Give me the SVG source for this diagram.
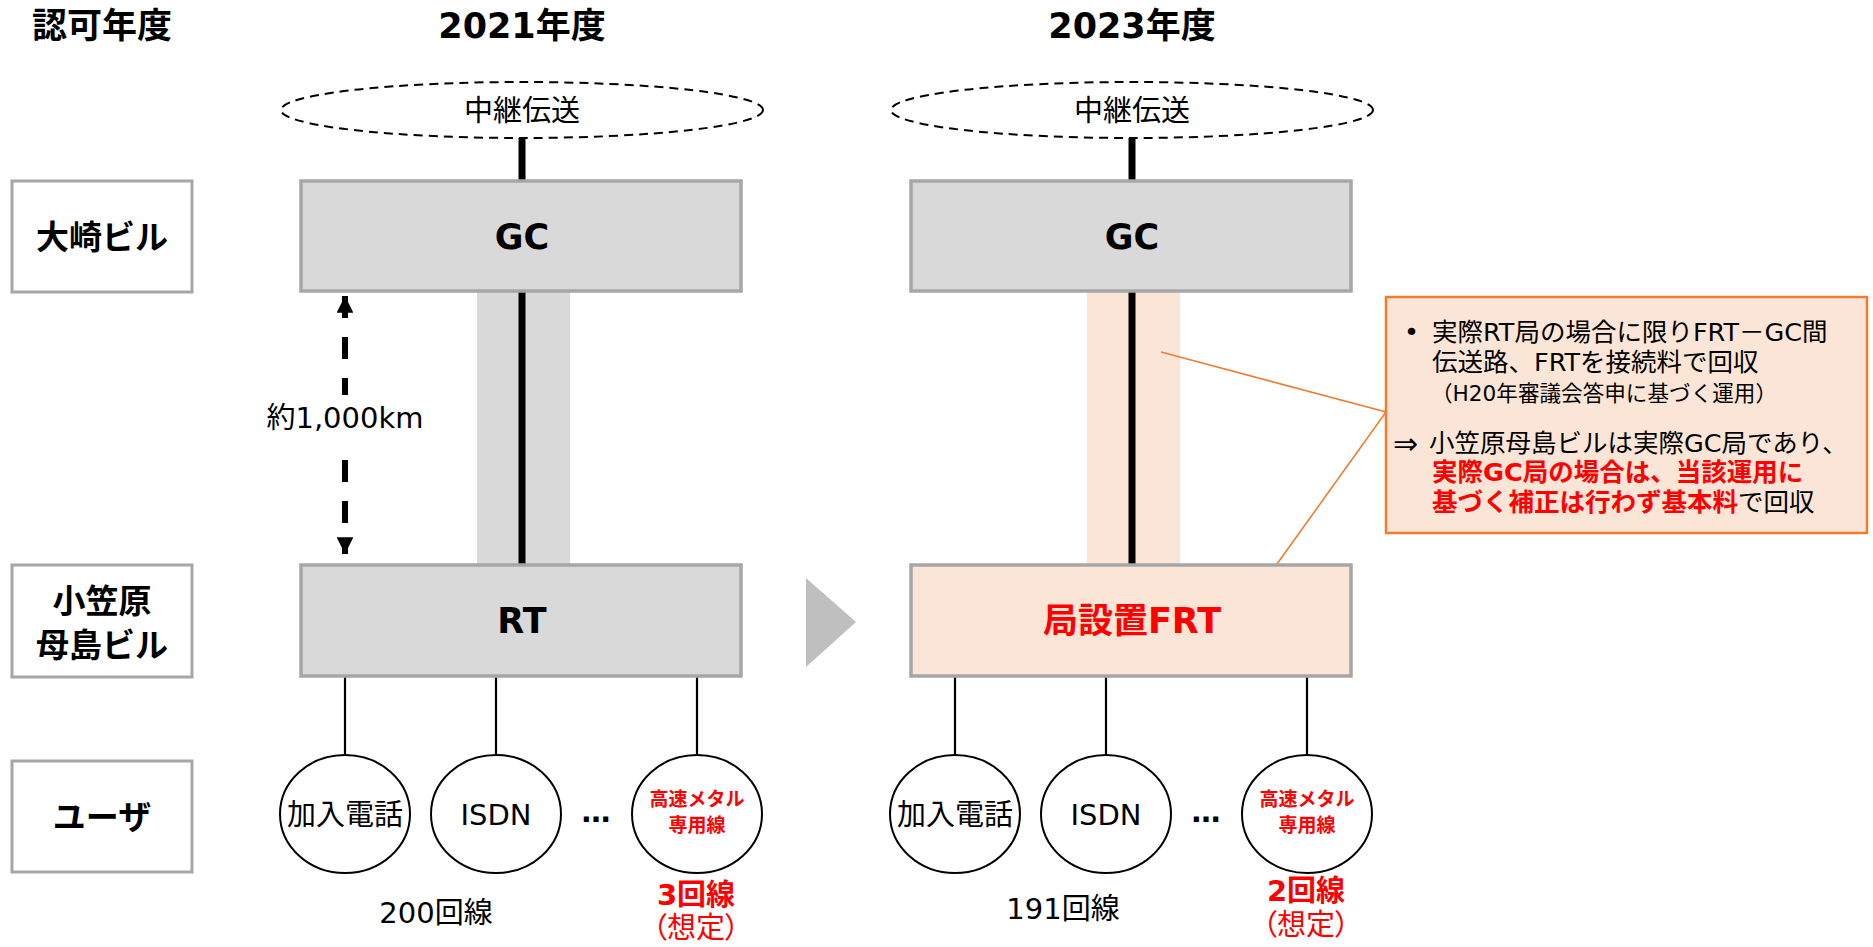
<svg xmlns="http://www.w3.org/2000/svg" width="1873" height="947" viewBox="0 0 1873 947">
<defs>
<style>
text{font-family:"DejaVu Sans","Noto Sans CJK JP",sans-serif;dominant-baseline:central;text-anchor:middle;fill:#000}
.t{font-size:35px;font-weight:bold}
.lb{font-size:33px;font-weight:bold}
.bx{font-size:35px;font-weight:bold}
.n{font-size:29px}
.sm{font-size:19px;font-weight:bold;fill:#ff0000}
.red{fill:#ff0000}
.rb{fill:#ff0000;font-weight:bold}
.co{font-size:25.5px;text-anchor:start}
.co2{font-size:21.6px;text-anchor:start}
.lbox{fill:#fff;stroke:#a6a6a6;stroke-width:3}
.gbox{fill:#d9d9d9;stroke:#a6a6a6;stroke-width:3.5}
.pbox{fill:#fbe5d6;stroke:#a6a6a6;stroke-width:3.5}
.cloud{fill:#fff;stroke:#000;stroke-width:2;stroke-dasharray:9 6}
.user{fill:#fff;stroke:#000;stroke-width:2}
.thick{stroke:#000;stroke-width:7}
.thin{stroke:#000;stroke-width:2.2}
.orange{stroke:#ed7d31;stroke-width:1.6;fill:none}
</style>
<marker id="ah" viewBox="0 0 10 10" refX="10" refY="5" markerWidth="2.8" markerHeight="2.8" orient="auto-start-reverse" markerUnits="strokeWidth">
<path d="M0,0 L10,5 L0,10 z" fill="#000"/>
</marker>
</defs>

<g id="headers">
<text class="t" x="102" y="26">認可年度</text>
<text class="t" x="522" y="26">2021年度</text>
<text class="t" x="1132" y="26">2023年度</text>
</g>

<g id="label-osaki"><rect class="lbox" x="12" y="181" width="180" height="111"/><text class="lb" x="102" y="237">大崎ビル</text></g>
<g id="label-hahajima"><rect class="lbox" x="12" y="565" width="180" height="112"/><text class="lb" x="102" y="601">小笠原</text><text class="lb" x="102" y="645">母島ビル</text></g>
<g id="label-user"><rect class="lbox" x="12" y="761" width="180" height="111"/><text class="lb" x="102" y="817">ユーザ</text></g>

<g id="bands">
<rect x="477" y="291" width="93" height="274" fill="#d9d9d9"/>
<rect x="1087" y="291" width="93" height="274" fill="#fbe5d6"/>
</g>

<g id="connectors">
<line class="thick" x1="522" y1="138" x2="522" y2="181"/>
<line class="thick" x1="522" y1="291" x2="522" y2="565"/>
<line class="thick" x1="1132" y1="138" x2="1132" y2="181"/>
<line class="thick" x1="1132" y1="291" x2="1132" y2="565"/>
<line class="thin" x1="345" y1="677" x2="345" y2="755"/>
<line class="thin" x1="496" y1="677" x2="496" y2="755"/>
<line class="thin" x1="697" y1="677" x2="697" y2="755"/>
<line class="thin" x1="955" y1="677" x2="955" y2="755"/>
<line class="thin" x1="1106" y1="677" x2="1106" y2="755"/>
<line class="thin" x1="1307" y1="677" x2="1307" y2="755"/>
<line x1="345" y1="296" x2="345" y2="554" stroke="#000" stroke-width="6" stroke-dasharray="22 19" marker-start="url(#ah)" marker-end="url(#ah)"/>
<polyline class="orange" points="1161,352 1386,412 1277,564"/>
</g>

<g id="distance-label">
<rect x="262" y="395" width="166" height="46" fill="#fff"/>
<text class="n" x="345" y="418">約1,000km</text>
</g>

<g id="relay-2021"><ellipse class="cloud" cx="522" cy="110" rx="241" ry="28"/><text class="n" x="522" y="111">中継伝送</text></g>
<g id="relay-2023"><ellipse class="cloud" cx="1132" cy="110" rx="241" ry="28"/><text class="n" x="1132" y="111">中継伝送</text></g>

<g id="gc-2021"><rect class="gbox" x="301" y="181" width="440" height="110"/><text class="bx" x="522" y="237">GC</text></g>
<g id="gc-2023"><rect class="gbox" x="911" y="181" width="440" height="110"/><text class="bx" x="1132" y="237">GC</text></g>
<g id="rt-2021"><rect class="gbox" x="301" y="565" width="440" height="111"/><text class="bx" x="522" y="621">RT</text></g>
<g id="frt-2023"><rect class="pbox" x="911" y="565" width="440" height="111"/><text class="bx red" x="1132" y="621">局設置FRT</text></g>

<g id="transition-arrow"><polygon points="806,578 806,667 856,622" fill="#bfbfbf"/></g>

<g id="users-2021">
<g id="u21-phone"><ellipse class="user" cx="345" cy="814" rx="65" ry="59"/><text class="n" x="345" y="815">加入電話</text></g>
<g id="u21-isdn"><ellipse class="user" cx="496" cy="814" rx="65" ry="59"/><text class="n" x="496" y="815">ISDN</text></g>
<text class="n" x="596" y="812" font-weight="bold">…</text>
<g id="u21-metal"><ellipse class="user" cx="697" cy="814" rx="65" ry="59"/><text class="sm" x="697" y="799">高速メタル</text><text class="sm" x="697" y="825">専用線</text></g>
<text class="n" x="436" y="913">200回線</text>
<text class="n rb" x="696" y="895">3回線</text>
<text class="n red" x="696" y="928" style="font-feature-settings:'palt'">（想定）</text>
</g>

<g id="users-2023">
<g id="u23-phone"><ellipse class="user" cx="955" cy="814" rx="65" ry="59"/><text class="n" x="955" y="815">加入電話</text></g>
<g id="u23-isdn"><ellipse class="user" cx="1106" cy="814" rx="65" ry="59"/><text class="n" x="1106" y="815">ISDN</text></g>
<text class="n" x="1206" y="812" font-weight="bold">…</text>
<g id="u23-metal"><ellipse class="user" cx="1307" cy="814" rx="65" ry="59"/><text class="sm" x="1307" y="799">高速メタル</text><text class="sm" x="1307" y="825">専用線</text></g>
<text class="n" x="1063" y="909">191回線</text>
<text class="n rb" x="1306" y="891">2回線</text>
<text class="n red" x="1306" y="925" style="font-feature-settings:'palt'">（想定）</text>
</g>

<g id="callout">
<rect x="1386" y="297" width="481" height="236" fill="#fbe5d6" stroke="#ed7d31" stroke-width="2.5"/>
<text class="co" x="1404" y="332">•</text>
<text class="co" x="1432" y="332">実際RT局の場合に限りFRT－GC間</text>
<text class="co" x="1432" y="362">伝送路、FRTを接続料で回収</text>
<text class="co2" x="1431" y="393">（H20年審議会答申に基づく運用）</text>
<text class="co" x="1393" y="443" style="font-size:30px">⇒</text>
<text class="co" x="1429" y="443">小笠原母島ビルは実際GC局であり、</text>
<text class="co rb" x="1432" y="472">実際GC局の場合は、当該運用に</text>
<text class="co" x="1432" y="502"><tspan class="rb">基づく補正は行わず基本料</tspan>で回収</text>
</g>
</svg>
